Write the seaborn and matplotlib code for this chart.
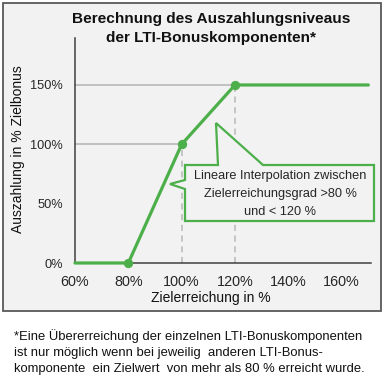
import matplotlib
matplotlib.use("Agg")
import matplotlib.pyplot as plt
import seaborn as sns
import pandas as pd
from matplotlib.patches import Rectangle, Polygon

# data
zielerreichung = [60, 80, 100, 120, 170]
auszahlung = [0, 0, 100, 150, 150]
marker_x = [80, 100, 120]
marker_y = [0, 100, 150]
x_ticks = [60, 80, 100, 120, 140, 160]
x_labels = ["60%", "80%", "100%", "120%", "140%", "160%"]
y_ticks = [0, 50, 100, 150]
y_labels = ["0%", "50%", "100%", "150%"]

sns.set_theme(style="white")
plt.rcParams['font.family'] = ['Liberation Sans', 'DejaVu Sans']

GREEN = "#4caf4a"
BG = "#f2f2f2"
W, H = 386, 380

fig = plt.figure(figsize=(W / 100, H / 100), dpi=100)
fig.patch.set_facecolor("white")

def fx(px):
    return px / W

def fy(py):
    return 1 - py / H

# outer box
fig.patches.append(Rectangle((fx(3), fy(311)), fx(381) - fx(3), fy(3) - fy(311),
                             transform=fig.transFigure, facecolor=BG,
                             edgecolor="#595959", linewidth=1.3, zorder=-5))

ax = fig.add_axes([fx(75), fy(263), fx(371) - fx(75), fy(37.5) - fy(263)])
ax.set_facecolor("none")
ax.set_zorder(2)

df = pd.DataFrame({"x": zielerreichung, "y": auszahlung})
mk = pd.DataFrame({"x": marker_x, "y": marker_y})

# drop lines
ax.plot([60, 100], [100, 100], color="#b8b8b8", lw=1.2, zorder=1)
ax.plot([60, 120], [150, 150], color="#b8b8b8", lw=1.2, zorder=1)
ax.plot([100, 100], [0, 100], color="#b8b8b8", lw=1.1, ls=(0, (4, 3)), zorder=1)
ax.plot([120, 120], [0, 150], color="#b8b8b8", lw=1.1, ls=(0, (4, 3)), zorder=1)

sns.lineplot(data=df, x="x", y="y", ax=ax, color=GREEN, linewidth=2.3, zorder=3)
sns.scatterplot(data=mk, x="x", y="y", ax=ax, color=GREEN, s=45, edgecolor=GREEN,
                linewidth=0, zorder=4)
for c in ax.collections:
    c.set_clip_on(False)
for l in ax.lines:
    l.set_clip_on(False)

ax.set_xlim(60, 171)
ax.set_ylim(0, 190)
ax.set_xticks(x_ticks)
ax.set_xticklabels(x_labels)
ax.set_yticks(y_ticks)
ax.set_yticklabels(y_labels)
ax.tick_params(axis="both", length=0, labelcolor="#262626")
ax.tick_params(axis="y", pad=8.5, labelsize=9.2)
ax.tick_params(axis="x", pad=8.5, labelsize=10.4)
ax.set_xlabel("")
ax.set_ylabel("")
for s in ["top", "right"]:
    ax.spines[s].set_visible(False)
for s in ["left", "bottom"]:
    ax.spines[s].set_color("#404040")
    ax.spines[s].set_linewidth(1.1)
ax.grid(False)

# callout polygon in data coords
def dx(px):
    return 60 + (px - 75) / (296 / 111)

def dy(py):
    return (263 - py) / (225.5 / 190)

pts_px = [(185, 165), (218, 165), (216, 123), (263, 165), (374, 165), (374, 221),
          (185, 221), (185, 189), (170, 184), (185, 180)]
pts = [(dx(a), dy(b)) for a, b in pts_px]
ax.add_patch(Polygon(pts, closed=True, facecolor=BG, edgecolor=GREEN,
                     linewidth=1.6, zorder=5, clip_on=False))

for txt, py in [("Lineare Interpolation zwischen", 176),
                ("Zielerreichungsgrad >80 %", 194),
                ("und < 120 %", 212)]:
    ax.text(fx(280), fy(py), txt, ha="center", va="center", fontsize=9.2,
            color="#262626", zorder=6, transform=fig.transFigure)

fig.text(fx(211), fy(19), "Berechnung des Auszahlungsniveaus", ha="center",
         va="center", fontsize=11.1, fontweight="bold", color="#111111")
fig.text(fx(211), fy(38), "der LTI-Bonuskomponenten*", ha="center",
         va="center", fontsize=11.1, fontweight="bold", color="#111111")
fig.text(fx(18), fy(149), "Auszahlung in % Zielbonus", rotation=90, ha="center",
         va="center", fontsize=10, color="#111111")
fig.text(fx(211), fy(298), "Zielerreichung in %", ha="center", va="center",
         fontsize=10, color="#111111")

for txt, py in [("*Eine Übererreichung der einzelnen LTI-Bonuskomponenten", 336),
                ("ist nur möglich wenn bei jeweilig  anderen LTI-Bonus-", 353),
                ("komponente  ein Zielwert  von mehr als 80 % erreicht wurde.", 369)]:
    fig.text(fx(14), fy(py), txt, ha="left", va="center", fontsize=9.35,
             color="#111111")

fig.savefig("out.png", dpi=100)
